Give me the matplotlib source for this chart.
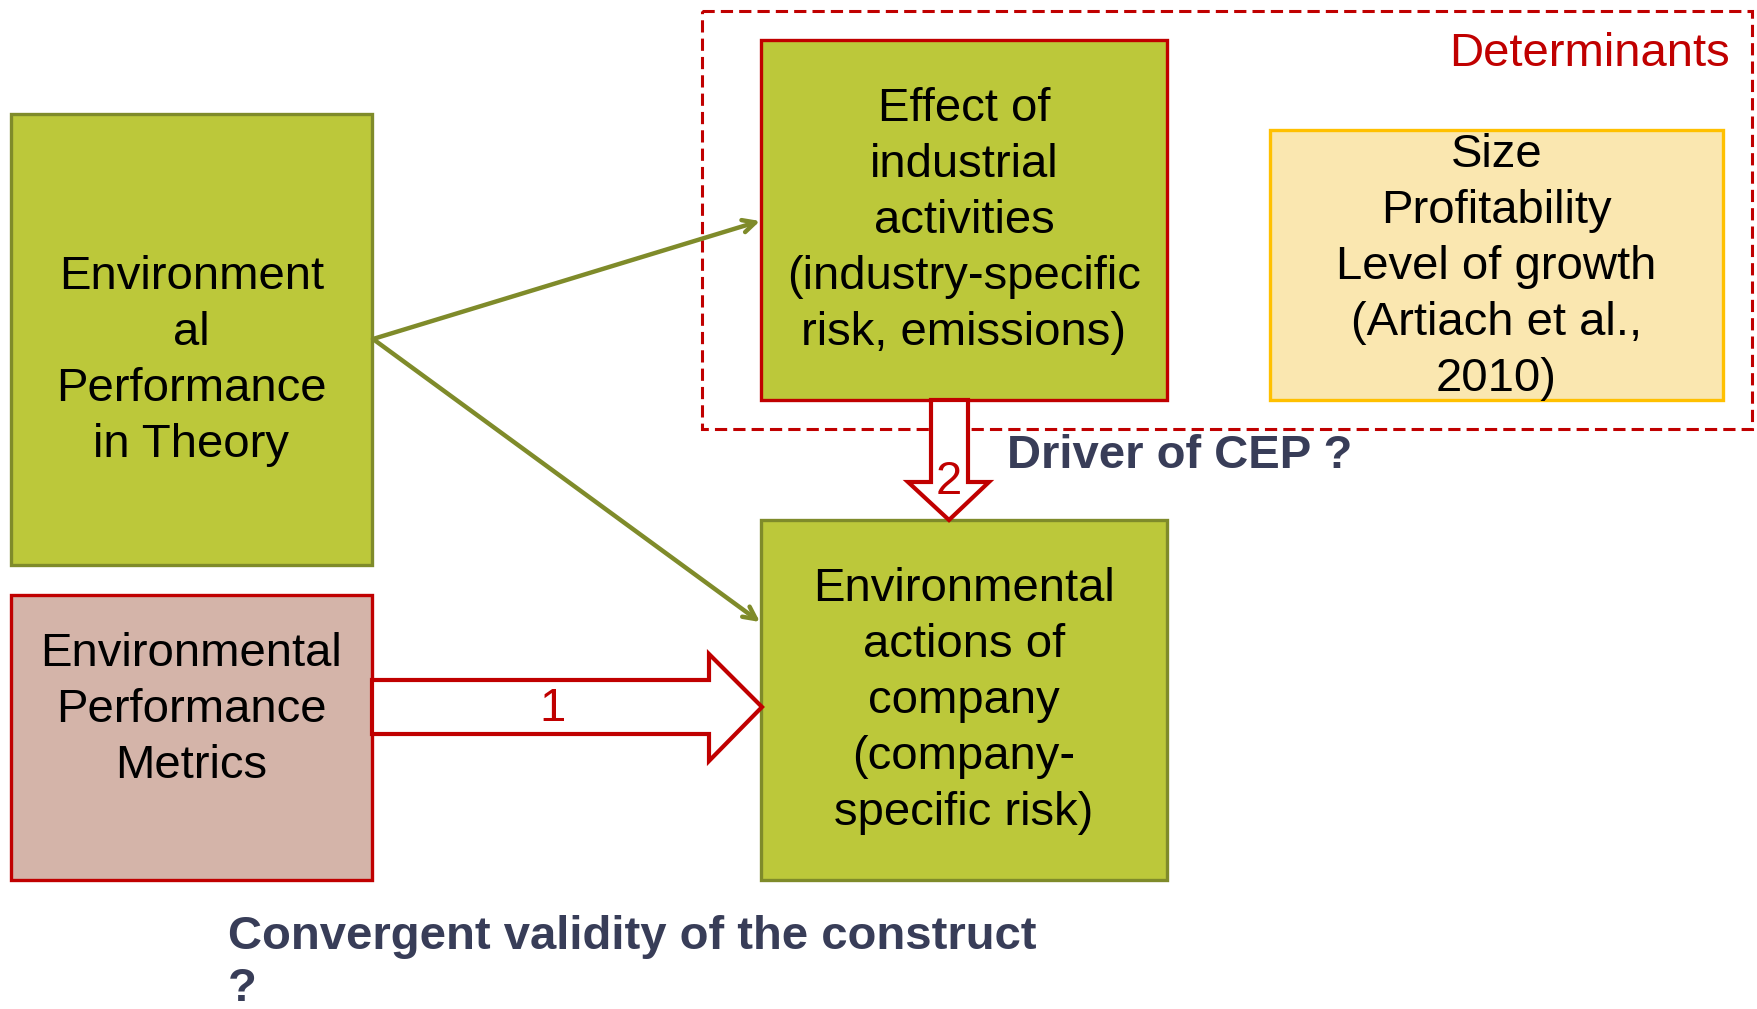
import matplotlib.pyplot as plt
from matplotlib.patches import Rectangle, Polygon

plt.rcParams['font.family'] = ['Liberation Sans', 'DejaVu Sans']

# -------------------------------
# CONTENT
# -------------------------------
box_names = ["theory", "metrics", "effect", "size", "actions"]
box_texts = [
    "Environment\nal\nPerformance\nin Theory",
    "Environmental\nPerformance\nMetrics",
    "Effect of\nindustrial\nactivities\n(industry-specific\nrisk, emissions)",
    "Size\nProfitability\nLevel of growth\n(Artiach et al.,\n2010)",
    "Environmental\nactions of\ncompany\n(company-\nspecific risk)",
]
group_label = "Determinants"
arrow_labels = ["1", "2"]
driver_text = "Driver of CEP ?"
convergent_text = "Convergent validity of the construct\n?"

# -------------------------------
# LAYOUT (pixels, origin top-left)
# -------------------------------
W, H = 1758, 1009
box_x = [11, 11, 761, 1270, 761]
box_y = [114, 595, 40, 130, 520]
box_w = [361, 361, 406, 453, 406]
box_h = [451, 285, 360, 270, 360]
text_y = [361, 710, 221, 267, 701]
face = ["#bcc83a", "#d4b4a9", "#bcc83a", "#fae7b0", "#bcc83a"]
edge = ["#7f8b2a", "#c00000", "#c00000", "#ffc000", "#7f8b2a"]

green = "#7f8b2a"
red = "#c00000"
navy = "#383d58"
fs = 34

fig = plt.figure(figsize=(W / 100, H / 100), dpi=100)
ax = fig.add_axes([0, 0, 1, 1])
ax.set_xlim(0, W)
ax.set_ylim(H, 0)
ax.axis("off")

# dashed determinants frame
ax.add_patch(Rectangle((702, 11), 1050, 418, fill=False, ec=red, lw=2.2,
                       ls=(0, (4, 2)), zorder=1))
ax.text(1730, 54, group_label, color=red, fontsize=fs, ha="right", va="center")

# boxes
for i in range(len(box_names)):
    ax.add_patch(Rectangle((box_x[i], box_y[i]), box_w[i], box_h[i],
                           fc=face[i], ec=edge[i], lw=2.4, zorder=2))
    ax.text(box_x[i] + box_w[i] / 2, text_y[i], box_texts[i], fontsize=fs,
            ha="center", va="center", linespacing=1.36, zorder=5)

# green arrows from theory box
for end in [(760, 221), (760, 622)]:
    ax.annotate("", xy=end, xytext=(373, 339),
                arrowprops=dict(arrowstyle="->,head_length=0.9,head_width=0.45",
                                color=green, lw=3.2, shrinkA=0, shrinkB=0),
                zorder=3)

# block arrow 1 (metrics -> actions)
a1 = [(372, 680), (709, 680), (709, 654), (762, 707),
      (709, 761), (709, 734), (372, 734)]
ax.add_patch(Polygon(a1, closed=True, fc="white", ec=red, lw=3, zorder=3))
ax.text(553, 709, arrow_labels[0], color=red, fontsize=fs,
        ha="center", va="center", zorder=4)

# block arrow 2 (effect -> actions)
a2 = [(931, 400), (968, 400), (968, 482), (989, 482),
      (949, 520), (908, 482), (931, 482)]
ax.add_patch(Polygon(a2, closed=True, fc="white", ec=red, lw=3, zorder=3))
ax.text(949, 482, arrow_labels[1], color=red, fontsize=fs,
        ha="center", va="center", zorder=4)

ax.text(1007, 456, driver_text, color=navy, fontsize=fs, fontweight="bold",
        ha="left", va="center")
ax.text(228, 963, convergent_text, color=navy, fontsize=fs, fontweight="bold",
        ha="left", va="center", linespacing=1.23)

fig.savefig("out.png", dpi=100)
